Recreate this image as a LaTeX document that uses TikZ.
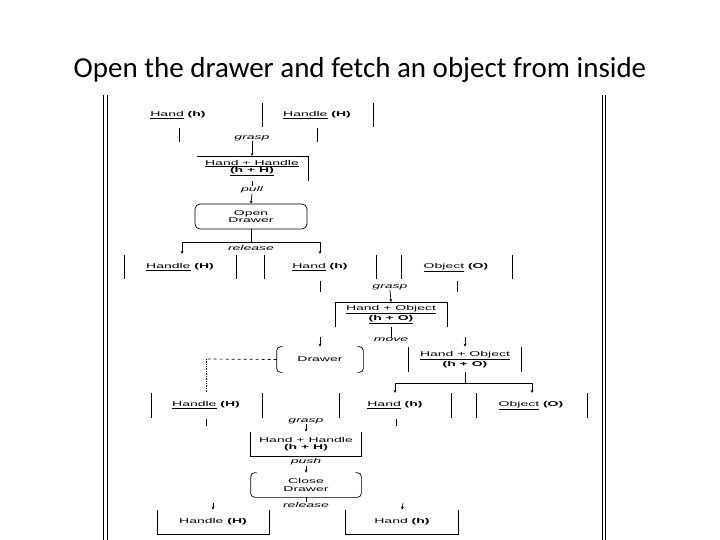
\documentclass[tikz,border=0pt]{standalone}
\usepackage{fontspec}
\setmainfont{Liberation Sans}
\newfontfamily\titlefont{Carlito}
\usepackage{graphicx}
\usetikzlibrary{arrows.meta}
\newcommand{\wideT}[1]{\scalebox{2}[1]{#1}}

\begin{document}
\begin{tikzpicture}[x=1pt, y=-1pt, line width=0.7pt,
  lbl/.style={inner sep=0pt, font=\fontsize{7}{7.5}\selectfont, align=center},
  one/.style={lbl, text height=5pt, text depth=1.5pt},
  act/.style={inner sep=0pt, font=\fontsize{7}{7.5}\selectfont\itshape},
  arr/.style={-{Stealth[length=3pt,width=2.8pt]}}]
\useasboundingbox (0,0) rectangle (720,540);
\node[anchor=base, inner sep=0pt, font=\titlefont\fontsize{29}{31}\selectfont] (title) at (360,78)
  {Open the drawer and fetch an object from inside};

% frame
\draw (103,95) -- (103,540) (107,95) -- (107,540);
\draw (602,95) -- (602,540) (605,95) -- (605,540);

% first grasp
\node[one] (handA) at (178,115) {\wideT{\underline{Hand} \textbf{(h)}}};
\node[one] (handleA) at (317,115) {\wideT{\underline{Handle} \textbf{(H)}}};
\foreach \x in {262,373} \draw (\x,103) -- (\x,127);
\foreach \x in {179,317} \draw (\x,128) -- (\x,142);
\node[act] (graspA) at (252,138) {\wideT{grasp}};
\node[lbl] (hhA) at (252,168) {\wideT{\underline{Hand + Handle}}\\\wideT{\underline{\textbf{(h + H)}}}};
\draw (197,156) -- (308,156) -- (308,181);
\coordinate (hhAtop) at (252,156);
\coordinate (hhAbot) at (252,181);
\draw[arr] (graspA.south) -- (hhAtop);
\node[act] (pull) at (252,190) {\wideT{pull}};
\node[lbl, draw, rounded corners=5pt, minimum width=112pt, minimum height=25pt] (open) at (251,216.5)
  {\wideT{Open}\\\wideT{Drawer}};
\draw (hhAbot) -- (pull.north);
\draw[arr] (pull.south) -- (open.north);

% release
\coordinate (relA) at (251,242);
\coordinate (toHandleB) at (182,254);
\coordinate (toHandB) at (320,254);
\draw (open.south) -- (relA);
\draw[arr] (relA) -| (toHandleB);
\draw[arr] (relA) -| (toHandB);
\node[act] (releaseA) at (251,247.5) {\wideT{release}};

% second grasp
\node[one] (handleB) at (180,267) {\wideT{\underline{Handle} \textbf{(H)}}};
\node[one] (handB) at (320,267) {\wideT{\underline{Hand} \textbf{(h)}}};
\node[one] (objB) at (456,267) {\wideT{\underline{Object} \textbf{(O)}}};
\foreach \x in {124,236,264,376,401,512} \draw (\x,255) -- (\x,279);
\foreach \x in {320,457} \draw (\x,281) -- (\x,292);
\node[act] (graspB) at (390,287) {\wideT{grasp}};
\node[lbl] (hoA) at (391,314.5) {\wideT{\underline{Hand + Object}}\\\wideT{\underline{\textbf{(h + O)}}}};
\draw (335,327) -- (335,302) -- (447,302) -- (447,327);
\coordinate (hoAtop) at (391,302);
\coordinate (hoAbot) at (391,327);
\draw[arr] (graspB.south) -- (hoAtop);

% move
\node[act] (move) at (391,340) {\wideT{move}};
\draw (hoAbot) -- (move.north);
\node[lbl, minimum width=86pt, minimum height=25pt] (drawer) at (320,359.5) {\wideT{Drawer}};
\draw[rounded corners=4pt] ([xshift=6pt]drawer.north west) -- (drawer.north west)
  -- (drawer.south west) -- ([xshift=6pt]drawer.south west);
\draw[rounded corners=4pt] ([xshift=-6pt]drawer.north east) -- (drawer.north east)
  -- (drawer.south east) -- ([xshift=-6pt]drawer.south east);
\node[lbl, minimum width=112pt, minimum height=25pt] (hoB) at (465,359.5)
  {\wideT{\underline{Hand + Object}}\\\wideT{\textbf{(h + O)}}};
\draw (hoB.north west) -- (hoB.south west) (hoB.north east) -- (hoB.south east);
\coordinate (toDrawer) at (320,337);
\coordinate (toHoB) at (465,337);
\draw[arr] (toDrawer) -- (drawer.north);
\draw[arr] (toHoB) -- (hoB.north);

% dashed link
\coordinate (dk) at (206,359);
\coordinate (dkEnd) at (206,392);
\draw[dashed] (drawer.west) -- (dk);
\draw[densely dotted] (dk) -- (dkEnd);

% split
\coordinate (spl) at (465,383);
\coordinate (toHandC) at (395,393);
\coordinate (toObjC) at (532,393);
\draw (hoB.south) -- (spl);
\draw[arr] (spl) -| (toHandC);
\draw[arr] (spl) -| (toObjC);

% third grasp
\node[one] (handleC) at (206,405) {\wideT{\underline{Handle} \textbf{(H)}}};
\node[one] (handC) at (395,405) {\wideT{\underline{Hand} \textbf{(h)}}};
\node[one] (objC) at (531,405) {\wideT{\underline{Object} \textbf{(O)}}};
\foreach \x in {151,262,339,451,476,587} \draw (\x,393) -- (\x,418);
\foreach \x in {206,396} \draw (\x,419) -- (\x,426);
\node[act] (graspC) at (306,421) {\wideT{grasp}};
\node[lbl, minimum width=110pt, minimum height=24pt] (hhB) at (306,444)
  {\wideT{Hand + Handle}\\\wideT{\textbf{(h + H)}}};
\draw (hhB.north west) -- (hhB.south west) -- (hhB.south east) -- (hhB.north east);
\draw[arr] (graspC.south) -- (hhB.north);

% push
\node[act] (push) at (306,462) {\wideT{push}};
\node[lbl, minimum width=110pt, minimum height=24pt] (close) at (306,485)
  {\wideT{Close}\\\wideT{Drawer}};
\draw[rounded corners=4pt] ([xshift=6pt]close.north west) -- (close.north west)
  -- (close.south west) -- (close.south east) -- (close.north east) -- ([xshift=-6pt]close.north east);
\draw[arr] (push.south) -- (close.north);

% release
\node[act] (releaseB) at (306,505) {\wideT{release}};
\draw (close.south) -- (releaseB.north);
\node[one, minimum width=111pt, minimum height=24pt] (handleD) at (213,522)
  {\wideT{Handle \textbf{(H)}}};
\node[one, minimum width=112pt, minimum height=24pt] (handD) at (402,522)
  {\wideT{Hand \textbf{(h)}}};
\draw (handleD.north west) -- (handleD.south west) -- (handleD.south east) -- (handleD.north east);
\draw (handD.north west) -- (handD.south west) -- (handD.south east) -- (handD.north east);
\coordinate (fromRelD) at (213,503);
\coordinate (fromRelE) at (403,503);
\draw[arr] (fromRelD) -- (handleD.north);
\draw[arr] (fromRelE) -- (handD.north);
\end{tikzpicture}
\end{document}
